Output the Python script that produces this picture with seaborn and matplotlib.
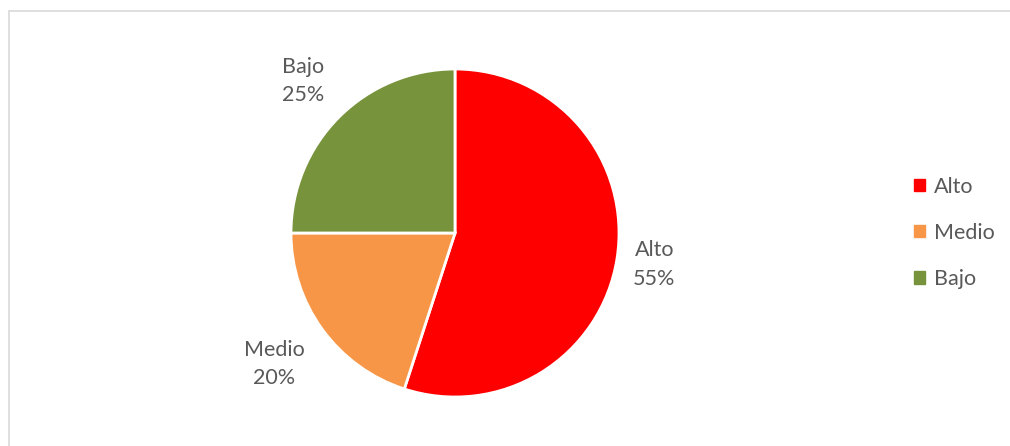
import matplotlib
matplotlib.use("Agg")
import matplotlib.pyplot as plt
import matplotlib.patches as mpatches
from matplotlib.lines import Line2D
import seaborn as sns
import numpy as np

categories = ["Alto", "Medio", "Bajo"]
shares = [55, 20, 25]
colors = ["#FF0000", "#F79646", "#77933C"]
label_dist = [1.23, 1.36, 1.31]

sns.set_theme(style="white")
plt.rcParams['font.family'] = ['Lato', 'DejaVu Sans']
text_color = "#595959"

fig = plt.figure(figsize=(10.1, 4.46), dpi=100)
W, H = 1010, 446
cx, cy, r = 455, 233, 164
ax = fig.add_axes([(cx - r) / W, (H - cy - r) / H, 2 * r / W, 2 * r / H])

wedges, texts = ax.pie(shares, colors=colors, startangle=90, counterclock=False,
                       radius=1, wedgeprops=dict(edgecolor="white", linewidth=2),
                       labels=[f"{c}\n{s}%" for c, s in zip(categories, shares)],
                       textprops=dict(color=text_color, fontsize=15.5, linespacing=1.55))
for w, t, d in zip(wedges, texts, label_dist):
    ang = np.deg2rad((w.theta1 + w.theta2) / 2)
    t.set_position((d * np.cos(ang), d * np.sin(ang)))
    t.set_ha("center")
    t.set_va("center")
ax.set_xlim(-1, 1)
ax.set_ylim(-1, 1)
ax.set_aspect("equal")
ax.axis("off")

handles = [mpatches.Patch(color=c, label=l) for c, l in zip(colors, categories)]
leg = fig.legend(handles=handles, loc="center left", bbox_to_anchor=(895 / W, (H - cy) / H),
                 frameon=False, fontsize=15.5, handlelength=0.5, handleheight=0.5,
                 handletextpad=0.4, labelspacing=1.22)
for t in leg.get_texts():
    t.set_color(text_color)

# thin frame: left and top edges only
fig.add_artist(Line2D([8.5 / W, 8.5 / W], [0, 1 - 11 / H], transform=fig.transFigure,
                      color="#D9D9D9", linewidth=1.2))
fig.add_artist(Line2D([8.5 / W, 1], [1 - 11 / H, 1 - 11 / H], transform=fig.transFigure,
                      color="#D9D9D9", linewidth=1.2))

fig.savefig("out.png", dpi=100, facecolor="white")
